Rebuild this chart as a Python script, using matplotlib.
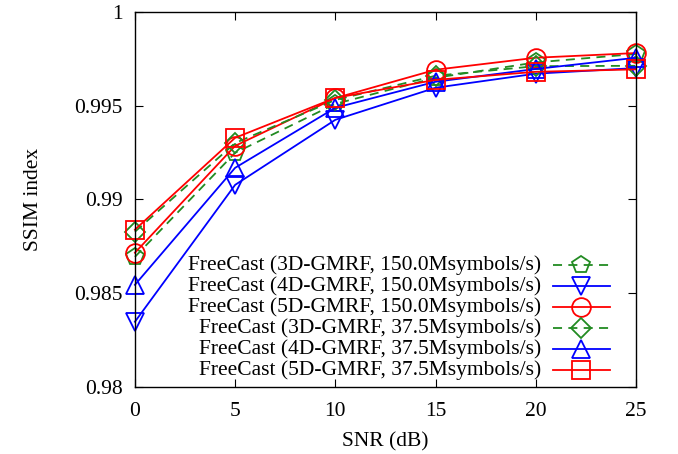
import numpy as np
import matplotlib.pyplot as plt
from matplotlib.ticker import FuncFormatter

plt.rcParams['font.family'] = ['Liberation Serif', 'DejaVu Serif']
plt.rcParams['font.size'] = 15.5

snr = [0, 5, 10, 15, 20, 25]

labels = ['FreeCast (3D-GMRF, 150.0Msymbols/s)',
          'FreeCast (4D-GMRF, 150.0Msymbols/s)',
          'FreeCast (5D-GMRF, 150.0Msymbols/s)',
          'FreeCast (3D-GMRF, 37.5Msymbols/s)',
          'FreeCast (4D-GMRF, 37.5Msymbols/s)',
          'FreeCast (5D-GMRF, 37.5Msymbols/s)']

gmrf3d_150 = [0.98693, 0.99248, 0.99509, 0.99648, 0.99730, 0.99775]
gmrf4d_150 = [0.98347, 0.99077, 0.99424, 0.99595, 0.99670, 0.99700]
gmrf5d_150 = [0.98715, 0.99285, 0.99540, 0.99691, 0.99755, 0.99780]
gmrf3d_375 = [0.98827, 0.99300, 0.99530, 0.99659, 0.99710, 0.99712]
gmrf4d_375 = [0.98544, 0.99168, 0.99488, 0.99627, 0.99695, 0.99755]
gmrf5d_375 = [0.98838, 0.99328, 0.99541, 0.99637, 0.99680, 0.99693]

series = [gmrf3d_150, gmrf4d_150, gmrf5d_150, gmrf3d_375, gmrf4d_375, gmrf5d_375]

green = '#228b22'
styles = [
    dict(color=green, ls=(0, (5, 3.5)), marker='p', ms=13),
    dict(color='#0000ff', ls='-', marker='v', ms=13.5),
    dict(color='#ff0000', ls='-', marker='o', ms=13.5),
    dict(color=green, ls=(0, (5, 3.5)), marker='D', ms=10.5),
    dict(color='#0000ff', ls='-', marker='^', ms=13.5),
    dict(color='#ff0000', ls='-', marker='s', ms=13),
]

fig = plt.figure(figsize=(6.78, 4.54), dpi=100)
ax = fig.add_axes([0.199, 0.148, 0.739, 0.826])

for vals, st in zip(series, styles):
    ax.plot(snr, vals, color=st['color'], ls=st['ls'], lw=1.3,
            marker=st['marker'], ms=st['ms'], mfc='none',
            mec=st['color'], mew=1.3, clip_on=False)

ax.set_xlim(0, 25)
ax.set_ylim(0.98, 1.0)
ax.set_xticks(snr)
ax.set_yticks([0.98, 0.985, 0.99, 0.995, 1.0])
ax.yaxis.set_major_formatter(FuncFormatter(lambda v, p: '%g' % round(v, 4)))
ax.tick_params(direction='in', length=6, width=0.8, top=True, right=True)
ax.tick_params(axis='x', pad=11)
ax.tick_params(axis='y', pad=9)
for s in ax.spines.values():
    s.set_linewidth(1.0)

ax.set_xlabel('SNR (dB)', labelpad=8)
ax.set_ylabel('SSIM index', labelpad=22)

# key in the lower right: right-aligned text, sample line with marker
row_y = [(387 - y) / 375 for y in [265, 286, 307, 328, 349, 370]]
x_text = (541 - 135) / 501
x0, x1 = (553 - 135) / 501, (610 - 135) / 501
for lab, st, y in zip(labels, styles, row_y):
    ax.text(x_text, y, lab, transform=ax.transAxes, ha='right', va='center')
    ax.plot([x0, x1], [y, y], transform=ax.transAxes, color=st['color'],
            ls=st['ls'], lw=1.3, clip_on=False)
    ax.plot([(x0 + x1) / 2], [y], transform=ax.transAxes, marker=st['marker'],
            ms=st['ms'], mfc='none', mec=st['color'], mew=1.3, ls='none',
            clip_on=False)

fig.savefig('out.png', dpi=100)
